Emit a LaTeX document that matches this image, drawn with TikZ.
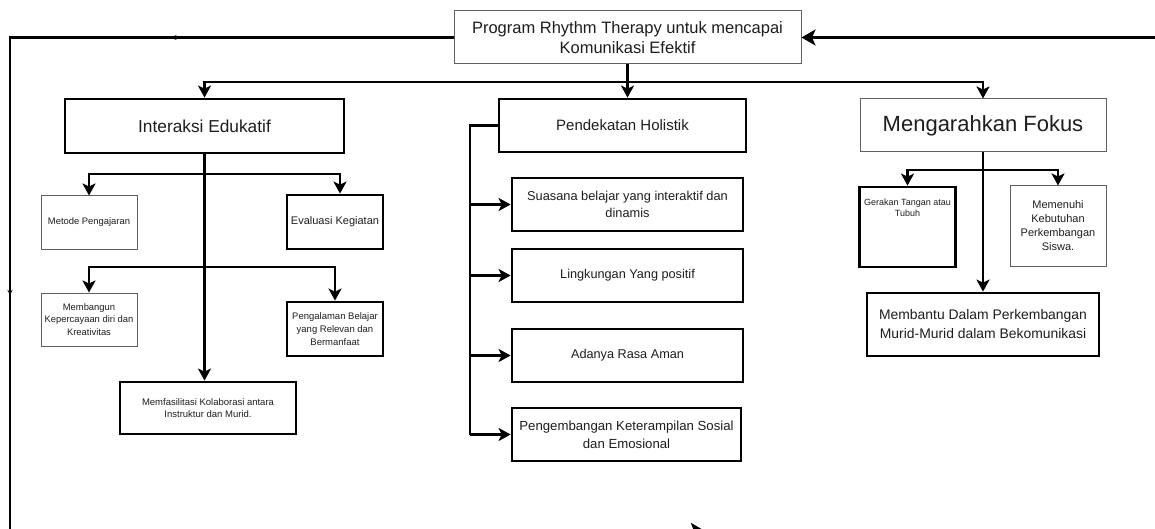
\documentclass[tikz,border=0pt]{standalone}
\usepackage{fontspec}
\setmainfont{Liberation Sans}
\usetikzlibrary{arrows.meta,decorations.markings}
\definecolor{txt}{RGB}{30,30,30}
\definecolor{thinline}{RGB}{95,95,95}
\newcommand{\fs}[2]{\fontsize{#1}{#2}\selectfont}
\begin{document}
\begin{tikzpicture}[x=1pt,y=-1pt,
  thickbox/.style={draw=black,line width=2.8pt,inner sep=0pt,align=center,text=txt},
  thinbox/.style={draw=thinline,line width=1pt,inner sep=0pt,align=center,text=txt},
  conn/.style={line width=2.9pt,draw=black},
  arr/.style={conn,-{Stealth[length=12pt,width=13pt,inset=3pt]}},
  bigarr/.style={conn,-{Stealth[length=14pt,width=16pt,inset=3.5pt]}}]
\useasboundingbox (0,0) rectangle (1155,529);
\clip (0,0) rectangle (1155,529);
\fill[white] (0,0) rectangle (1155,529);

% top node
\node[thinbox,minimum width=347pt,minimum height=53pt,font=\fs{16.5}{20}] (top) at (627.5,37.5)
  {Program Rhythm Therapy untuk mencapai\\Komunikasi Efektif};

% level 1
\node[thickbox,minimum width=279pt,minimum height=54pt,font=\fs{17.3}{20}] (inter) at (204.5,126)
  {Interaksi Edukatif};
\node[thickbox,minimum width=247pt,minimum height=53pt,font=\fs{15}{18}] (pend) at (622.5,125.5)
  {Pendekatan Holistik};
\node[thinbox,minimum width=246pt,minimum height=53pt,font=\fs{22}{26}] (meng) at (983,125.5)
  {Mengarahkan Fokus};

% Interaksi children
\node[thinbox,minimum width=96pt,minimum height=53pt,font=\fs{9.4}{12}] (metode) at (89,222.5)
  {Metode Pengajaran};
\node[thickbox,minimum width=96pt,minimum height=54pt,font=\fs{11}{13}] (eval) at (335,222)
  {Evaluasi Kegiatan};
\node[thinbox,minimum width=96pt,minimum height=53pt,font=\fs{9.4}{12.3}] (memb) at (89,319.5)
  {Membangun\\Kepercayaan diri dan\\Kreativitas};
\node[thickbox,minimum width=96pt,minimum height=54pt,font=\fs{9.5}{13}] (peng) at (335,329)
  {Pengalaman Belajar\\yang Relevan dan\\Bermanfaat};
\node[thickbox,minimum width=176pt,minimum height=52pt,font=\fs{9.5}{12.7}] (memf) at (208,408)
  {Memfasilitasi Kolaborasi antara\\Instruktur dan Murid.};

% Pendekatan children
\node[thickbox,minimum width=231pt,minimum height=53pt,font=\fs{12.8}{17}] (suas) at (627.5,204.5)
  {Suasana belajar yang interaktif dan\\dinamis};
\node[thickbox,minimum width=231pt,minimum height=53pt,font=\fs{12.7}{16}] (ling) at (627.5,275.5)
  {Lingkungan Yang positif};
\node[thickbox,minimum width=231pt,minimum height=53pt,font=\fs{12.7}{16}] (adan) at (627.5,355.5)
  {Adanya Rasa Aman};
\node[thickbox,minimum width=229pt,minimum height=53pt,font=\fs{13.2}{18.3}] (pke) at (626.5,434.5)
  {Pengembangan Keterampilan Sosial\\dan Emosional};

% Mengarahkan children
\node[thickbox,minimum width=96pt,minimum height=80pt] (gera) at (907.5,227) {};
\node[inner sep=0pt,align=center,text=txt,font=\fs{9}{11}] (gerat) at (907.5,208)
  {Gerakan Tangan atau\\Tubuh};
\node[thinbox,minimum width=96pt,minimum height=80pt,font=\fs{11}{14}] (meme) at (1058,226)
  {Memenuhi\\Kebutuhan\\Perkembangan\\Siswa.};
\node[thickbox,minimum width=232pt,minimum height=63pt,font=\fs{13.9}{19}] (memban) at (983,324.5)
  {Membantu Dalam Perkembangan\\Murid-Murid dalam Bekomunikasi};

% coordinates
\coordinate (hub) at (627,82);
\coordinate (ib1) at (204.5,174);
\coordinate (ib2) at (204.5,267);
\coordinate (pb) at (470,125.5);
\coordinate (mb) at (983,170);
\coordinate (lt) at (10,37.5);
\coordinate (lb) at (10,531);
\coordinate (rb) at (1162,531);
\coordinate (rt) at (1162,37.5);

% top connectors
\draw[arr] (top.south) -- (top.south |- pend.north);
\draw[arr] (hub) -| (inter.north);
\draw[arr] (hub) -| (meng.north);

% Interaksi connectors
\draw[arr] (inter.south) -- (inter.south |- memf.north);
\draw[arr] (ib1) -| (metode.north);
\draw[arr] (ib1) -| ([xshift=5pt]eval.north);
\draw[arr] (ib2) -| (memb.north);
\draw[arr] (ib2) -| (peng.north);

% Pendekatan connectors
\draw[conn] (pend.west) -- (pb) -- (pb |- pke.west);
\draw[arr] (pb |- suas.west) -- (suas.west);
\draw[arr] (pb |- ling.west) -- (ling.west);
\draw[arr] (pb |- adan.west) -- (adan.west);
\draw[arr] (pb |- pke.west) -- (pke.west);

% Mengarahkan connectors
\draw[arr] (meng.south) -- (memban.north);
\draw[arr] (mb) -| (gera.north);
\draw[arr] (mb) -| (meme.north);

% outer loop
\draw[bigarr,
  decoration={markings,
    mark=at position 282pt with {\arrow{Stealth[length=5pt,width=5pt]}},
    mark=at position 701pt with {\arrow{Stealth[length=5pt,width=5pt]}},
    mark=at position 1632pt with {\arrow{Stealth[length=14pt,width=16pt,inset=3pt]}}},
  postaction=decorate]
  (top.west) -- (lt) -- (lb) -- (rb) -- (rt) -- (top.east);
\end{tikzpicture}
\end{document}
